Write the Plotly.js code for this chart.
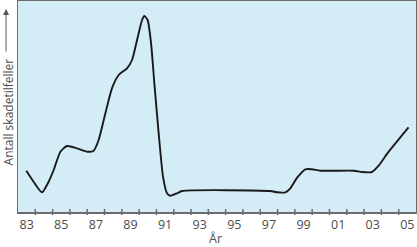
<!DOCTYPE html>
<html>
<head>
<meta charset="utf-8">
<script src="https://cdn.plot.ly/plotly-3.0.1.min.js"></script>
<style>html,body{margin:0;padding:0;background:#fff;}#chart{width:417px;height:247px;}</style>
</head>
<body>
<div id="chart"></div>
<script>
// Years (decimal) and number of injury cases (arbitrary units)
const years = [1983.48,1983.90,1984.39,1984.77,1985.06,1985.45,1985.83,1986.41,1987.02,1987.37,1987.66,1988.05,1988.43,1988.82,1989.30,1989.59,1989.88,1990.17,1990.30,1990.49,1990.69,1990.88,1991.13,1991.38,1991.61,1991.80,1992.19,1992.48,1997.58,1997.97,1998.45,1998.74,1999.13,1999.61,1999.99,2000.47,2002.40,2002.88,2003.46,2003.84,2004.42,2005.57];
const cases = [41.3,30.3,19.7,30.3,42,60.3,66,63.7,60.3,61.3,72,98.7,123.7,137,143.7,152,172,192,196,192,168.7,128.7,78.7,35.3,18.7,16.3,18.7,21,21,19.7,19.7,23.7,34.3,42.7,42.7,41.3,41.3,40,40,46.3,60.3,84.7];
const tickLabels = ['83','85','87','89','91','93','95','97','99','01','03','05'];
const labelYears = [1983,1985,1987,1989,1991,1993,1995,1997,1999,2001,2003,2005];
const tickYears = [];
for (let y = 1984; y <= 2005; y++) tickYears.push(y);
const yTitle = 'Antall skadetilfeller';
const xTitle = 'År';

const axisCol = '#6b6b6b';
const textCol = '#4d4d4d';
const font = 'Open Sans, sans-serif';

const shapes = tickYears.map(y => ({
  type: 'line', xref: 'x', yref: 'paper', ysizemode: 'pixel', yanchor: 0,
  x0: y, x1: y, y0: -3, y1: 3,
  line: {color: axisCol, width: 1.5}
}));

const data = [{
  x: years, y: cases, type: 'scatter', mode: 'lines',
  line: {color: '#1a1a1a', width: 1.9, shape: 'spline', smoothing: 0.6},
  hoverinfo: 'skip'
}];

const layout = {
  width: 417, height: 247,
  margin: {l: 18, r: 1, t: 1, b: 35},
  paper_bgcolor: '#ffffff',
  plot_bgcolor: '#d4ecf6',
  showlegend: false,
  font: {family: font, size: 12.5, color: textCol},
  xaxis: {
    range: [1983, 2006], showgrid: false, zeroline: false,
    tickmode: 'array', tickvals: labelYears.map(v => v + 0.5), ticktext: tickLabels,
    ticks: '', showline: true, linecolor: axisCol, linewidth: 1.5, mirror: true,
    tickfont: {family: font, size: 12.5, color: textCol}
  },
  yaxis: {
    range: [0, 211], showgrid: false, zeroline: false, showticklabels: false,
    ticks: '', showline: true, linecolor: axisCol, linewidth: 1.5, mirror: true
  },
  shapes: shapes,
  annotations: [
    {text: yTitle, xref: 'paper', yref: 'paper', x: -0.025, y: 0.472, textangle: -90,
     showarrow: false, xanchor: 'center', yanchor: 'middle',
     font: {family: font, size: 12, color: textCol}},
    {text: '', xref: 'paper', yref: 'paper', x: -0.03, y: 0.962, showarrow: true,
     ax: 0, ay: 44, arrowhead: 2, arrowsize: 1.2, arrowwidth: 1, arrowcolor: '#555555'},
    {text: xTitle, xref: 'paper', yref: 'paper', x: 0.495, y: -0.125,
     showarrow: false, xanchor: 'center', yanchor: 'middle',
     font: {family: font, size: 12.5, color: textCol}}
  ]
};

Plotly.newPlot('chart', data, layout, {displayModeBar: false, staticPlot: true});
</script>
</body>
</html>
